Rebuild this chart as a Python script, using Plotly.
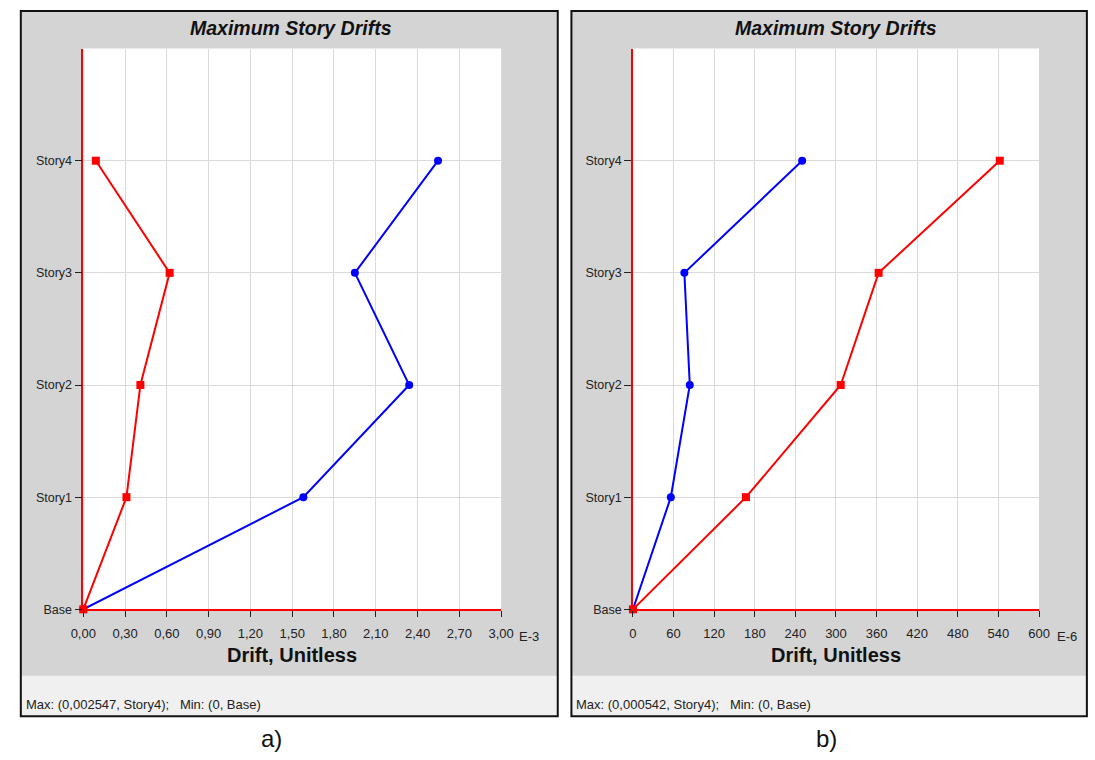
import plotly.graph_objects as go

# ---- data -------------------------------------------------------------
stories = ["Base", "Story1", "Story2", "Story3", "Story4"]
story_levels = [0, 1, 2, 3, 4]

# panel a) drift values in units of 1E-3
drift_a_blue = [0.0, 1.58, 2.34, 1.95, 2.547]
drift_a_red = [0.0, 0.31, 0.41, 0.62, 0.09]
ticks_a = [0.0, 0.3, 0.6, 0.9, 1.2, 1.5, 1.8, 2.1, 2.4, 2.7, 3.0]

# panel b) drift values in units of 1E-6
drift_b_blue = [0.0, 56, 84, 76, 250]
drift_b_red = [0.0, 167, 307, 363, 542]
ticks_b = [0, 60, 120, 180, 240, 300, 360, 420, 480, 540, 600]

title_text = "Maximum Story Drifts"
axis_title = "Drift, Unitless"
status_a = "Max: (0,002547, Story4);\u00a0\u00a0\u00a0Min: (0, Base)"
status_b = "Max: (0,000542, Story4);\u00a0\u00a0\u00a0Min: (0, Base)"

# ---- geometry helpers (pixel -> paper) ---------------------------------
W, H = 1095, 760


def px(x):
    return x / W


def py(y):
    return 1 - y / H


FONT = "Liberation Sans, Arial, sans-serif"
GRAY = "#d4d4d4"
STATUS = "#f0f0f0"
GRID = "#dadada"

fig = go.Figure()

panels = [
    dict(box=(8, 11, 558, 723), plot=(72, 49, 500, 615), xa="x", ya="y",
         blue=drift_a_blue, red=drift_a_red, ticks=ticks_a, fmt=".2f",
         exp="E-3", exp_x=516, status=status_a, caption="a)", cap_x=265, title_x=285),
    dict(box=(572, 11, 1100, 723), plot=(635, 49, 1051, 615), xa="x2", ya="y2",
         blue=drift_b_blue, red=drift_b_red, ticks=ticks_b, fmt="d",
         exp="E-6", exp_x=1067, status=status_b, caption="b)", cap_x=833, title_x=843),
]

shapes = []
annotations = []

for i, p in enumerate(panels):
    x0, y0, x1, y1 = p["box"]
    gx0, gy0, gx1, gy1 = p["plot"]
    # panel background, status strip, white plotting area, frame
    shapes.append(dict(type="rect", xref="paper", yref="paper", layer="below",
                       x0=px(x0), x1=px(x1), y0=py(y1), y1=py(y0),
                       fillcolor=GRAY, line=dict(width=0)))
    shapes.append(dict(type="rect", xref="paper", yref="paper", layer="below",
                       x0=px(x0), x1=px(x1), y0=py(y1), y1=py(682),
                       fillcolor=STATUS, line=dict(width=0)))
    shapes.append(dict(type="rect", xref="paper", yref="paper", layer="below",
                       x0=px(gx0), x1=px(gx1), y0=py(gy1), y1=py(gy0),
                       fillcolor="white", line=dict(width=0)))
    shapes.append(dict(type="rect", xref="paper", yref="paper", layer="above",
                       x0=px(x0), x1=px(x1), y0=py(y1), y1=py(y0),
                       fillcolor="rgba(0,0,0,0)", line=dict(color="#111", width=2)))

    annotations.append(dict(xref="paper", yref="paper", x=px(p["title_x"]),
                            y=py(28), text="<b><i>" + title_text + "</i></b>", showarrow=False,
                            font=dict(family=FONT, size=19.5, color="#111"),
                            xanchor="center", yanchor="middle"))
    annotations.append(dict(xref="paper", yref="paper", x=px((gx0 + gx1) / 2), y=py(661),
                            text="<b>" + axis_title + "</b>", showarrow=False,
                            font=dict(family=FONT, size=20, color="#111"),
                            xanchor="center", yanchor="middle"))
    annotations.append(dict(xref="paper", yref="paper", x=px(p["exp_x"]), y=py(642),
                            text=p["exp"], showarrow=False,
                            font=dict(family=FONT, size=13, color="#222"),
                            xanchor="left", yanchor="middle"))
    annotations.append(dict(xref="paper", yref="paper", x=px(x0 + 3), y=py(711),
                            text=p["status"], showarrow=False,
                            font=dict(family=FONT, size=13, color="#222"),
                            xanchor="left", yanchor="middle"))
    annotations.append(dict(xref="paper", yref="paper", x=px(p["cap_x"]), y=py(745),
                            text=p["caption"], showarrow=False,
                            font=dict(family=FONT, size=24, color="#111"),
                            xanchor="center", yanchor="middle"))

    fig.add_trace(go.Scatter(x=p["blue"], y=story_levels, mode="lines+markers",
                             xaxis=p["xa"], yaxis=p["ya"], cliponaxis=False,
                             line=dict(color="#0000ff", width=2),
                             marker=dict(symbol="circle", size=8, color="#0000ff"),
                             showlegend=False, hoverinfo="x+y"))
    fig.add_trace(go.Scatter(x=p["red"], y=story_levels, mode="lines+markers",
                             xaxis=p["xa"], yaxis=p["ya"], cliponaxis=False,
                             line=dict(color="#ff0000", width=2),
                             marker=dict(symbol="square", size=8, color="#ff0000"),
                             showlegend=False, hoverinfo="x+y"))

    xaxis = dict(domain=[px(gx0), px(gx1)], range=[p["ticks"][0], p["ticks"][-1]],
                 anchor=p["ya"], tickvals=p["ticks"], tickformat=p["fmt"],
                 showgrid=True, gridcolor=GRID, gridwidth=1, zeroline=False,
                 showline=True, linecolor="#ff0000", linewidth=1.5,
                 ticks="outside", ticklen=6, tickcolor="#222", tickwidth=1,
                 ticklabelstandoff=5,
                 tickfont=dict(family=FONT, size=13, color="#222"), fixedrange=True)
    yaxis = dict(domain=[py(gy1), py(gy0)], range=[0, 5], anchor=p["xa"],
                 tickvals=story_levels, ticktext=stories,
                 showgrid=True, gridcolor=GRID, gridwidth=1, zeroline=False,
                 showline=True, linecolor="#ff0000", linewidth=1.5,
                 ticks="outside", ticklen=7, tickcolor="#222", tickwidth=1,
                 tickfont=dict(family=FONT, size=12.5, color="#222"), fixedrange=True)
    suffix = "" if i == 0 else "2"
    fig.update_layout(**{"xaxis" + suffix: xaxis, "yaxis" + suffix: yaxis})

fig.update_layout(
    width=W, height=H,
    margin=dict(l=0, r=0, t=0, b=0),
    paper_bgcolor="white",
    plot_bgcolor="rgba(0,0,0,0)",
    separators=", ",
    shapes=shapes,
    annotations=annotations,
    showlegend=False,
)

fig.write_html("out.html",
               post_script="document.body.style.margin='0';document.body.style.overflow='hidden';")
